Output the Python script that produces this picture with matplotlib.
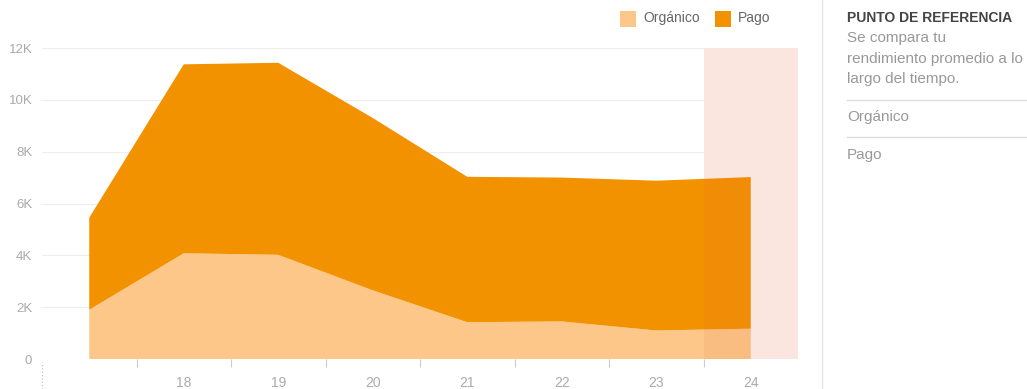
import matplotlib
matplotlib.use("Agg")
import matplotlib.pyplot as plt
from matplotlib.patches import Rectangle
from matplotlib.lines import Line2D

plt.rcParams['font.family'] = ['Liberation Sans', 'DejaVu Sans']

days = [17, 18, 19, 20, 21, 22, 23, 24]
tick_labels = ['18', '19', '20', '21', '22', '23', '24']
organico = [1900, 4080, 4020, 2650, 1420, 1450, 1100, 1170]
total = [5450, 11370, 11430, 9300, 7030, 7000, 6880, 7020]
pago = [t - o for t, o in zip(total, organico)]

c_org = '#FDC78A'
c_pago = '#F39200'
c_band = '#FFF5F2'
grid_c = '#EEEEEE'
txt_c = '#AAAAAA'

fig = plt.figure(figsize=(10.27, 3.89), dpi=100)
ax = fig.add_axes([42/1027, (389-359)/389, (798-42)/1027, (359-48)/389])

ax.axvspan(23.5, 24.5, color=c_band, alpha=1.0, zorder=1, lw=0)
ax.stackplot(days, organico, pago, colors=[c_org, c_pago], linewidth=0, zorder=2)
ax.axvspan(23.5, 24.5, color='#D8603A', alpha=0.10, zorder=3, lw=0)

ax.set_xlim(16.5, 24.5)
ax.set_ylim(0, 12000)
yt = [0, 2000, 4000, 6000, 8000, 10000, 12000]
ax.set_yticks(yt)
ax.set_yticklabels(['0', '2K', '4K', '6K', '8K', '10K', '12K'], color=txt_c, fontsize=9.5)
ax.set_xticks(days[1:])
ax.set_xticklabels(tick_labels, color=txt_c, fontsize=10)
ax.tick_params(axis='x', length=0, pad=12)
ax.tick_params(axis='y', length=0, pad=7)
ax.set_xticks([d - 0.5 for d in days[1:]], minor=True)
ax.tick_params(axis='x', which='minor', length=6, color='#CCCCCC', width=0.8, direction='out')
for y in yt:
    ax.axhline(y, color=grid_c, lw=0.8, zorder=0)
for s in ax.spines.values():
    s.set_visible(False)

# dotted line below y axis origin
fig.add_artist(Line2D([42/1027, 42/1027], [0, (389-362)/389], color='#BBBBBB', lw=0.8, ls=(0, (1, 2))))

# legend
fig.patches.append(Rectangle((620/1027, (389-27)/389), 16/1027, 16/389, transform=fig.transFigure,
                             facecolor=c_org, edgecolor='none'))
fig.text(643/1027, (389-18)/389, 'Orgánico', color='#666666', fontsize=10, va='center', ha='left')
fig.patches.append(Rectangle((715/1027, (389-27)/389), 16/1027, 16/389, transform=fig.transFigure,
                             facecolor=c_pago, edgecolor='none'))
fig.text(738/1027, (389-18)/389, 'Pago', color='#666666', fontsize=10, va='center', ha='left')

# right panel
fig.add_artist(Line2D([822/1027, 822/1027], [0, 1], color='#E5E5E5', lw=1))
fig.text(847/1027, (389-18)/389, 'PUNTO DE REFERENCIA', color='#444444', fontsize=10,
         fontweight='bold', va='center', ha='left')
fig.text(847/1027, (389-38)/389, 'Se compara tu', color='#999999', fontsize=11, va='center', ha='left')
fig.text(847/1027, (389-59)/389, 'rendimiento promedio a lo', color='#999999', fontsize=11, va='center', ha='left')
fig.text(847/1027, (389-79)/389, 'largo del tiempo.', color='#999999', fontsize=11, va='center', ha='left')
fig.add_artist(Line2D([847/1027, 1], [(389-100)/389]*2, color='#DDDDDD', lw=1))
fig.text(847/1027, (389-117)/389, 'Orgánico', color='#999999', fontsize=11, va='center', ha='left')
fig.add_artist(Line2D([847/1027, 1], [(389-137)/389]*2, color='#DDDDDD', lw=1))
fig.text(847/1027, (389-155)/389, 'Pago', color='#999999', fontsize=11, va='center', ha='left')

fig.savefig('out.png', dpi=100)
